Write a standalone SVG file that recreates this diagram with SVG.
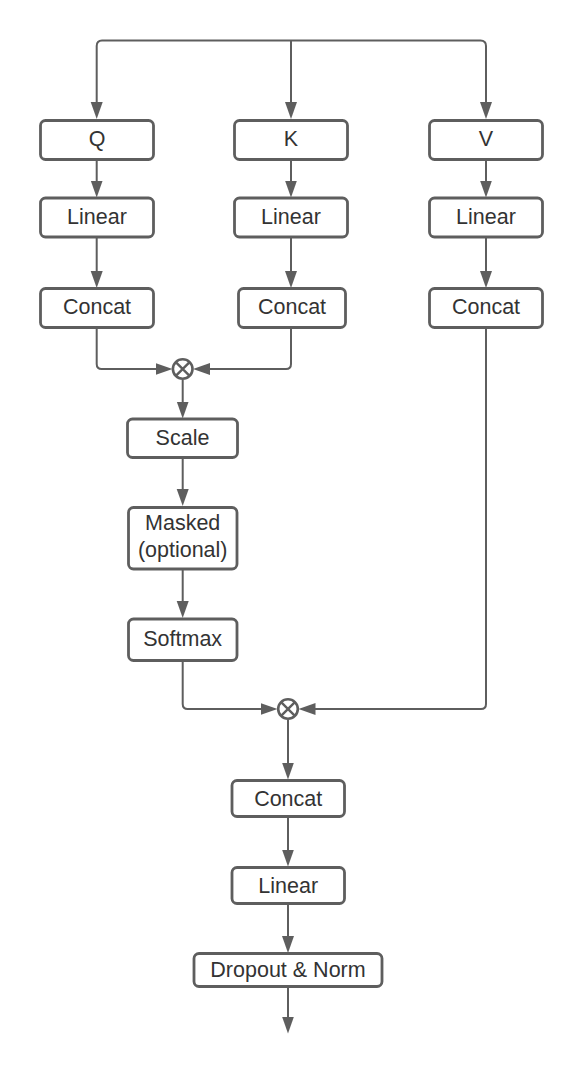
<svg xmlns="http://www.w3.org/2000/svg" width="584" height="1071" viewBox="0 0 584 1071">
<defs>
<style>
.box{fill:#ffffff;stroke:#5e5e5e;stroke-width:2.8}
.lbl{font-family:"Liberation Sans",Arial,sans-serif;font-size:21.5px;fill:#333333;text-anchor:middle}
.ln{fill:none;stroke:#5e5e5e;stroke-width:2;marker-end:url(#arr)}
.op{fill:#ffffff;stroke:#5e5e5e;stroke-width:2.6}
.x{stroke:#5e5e5e;stroke-width:2.4}
</style>
<marker id="arr" markerUnits="userSpaceOnUse" markerWidth="18" markerHeight="14" viewBox="0 0 18 14" refX="8" refY="7" orient="auto">
<path d="M0,1 L17,7 L0,13 z" fill="#5e5e5e"/>
</marker>
</defs>
<rect width="584" height="1071" fill="#ffffff"/>
<g id="connectors">
<path class="ln" d="M291,40.5 H102 Q96.7,40.5 96.7,46 V110"/>
<path class="ln" d="M291,40.5 H480.5 Q486,40.5 486,46 V110"/>
<path class="ln" d="M291,40.5 V110"/>
<path class="ln" d="M96.7,160 V188.5"/>
<path class="ln" d="M291,160 V188.5"/>
<path class="ln" d="M486,160 V188.5"/>
<path class="ln" d="M96.7,238 V279"/>
<path class="ln" d="M291,238 V279"/>
<path class="ln" d="M486,238 V279"/>
<path class="ln" d="M96.7,328 V364 Q96.7,369 101.7,369 H163.5"/>
<path class="ln" d="M291,328 V364 Q291,369 286,369 H202"/>
<path class="ln" d="M182.7,380 V409.5"/>
<path class="ln" d="M182.7,458 V497"/>
<path class="ln" d="M182.7,570 V609"/>
<path class="ln" d="M182.7,662 V704 Q182.7,709 187.7,709 H268.5"/>
<path class="ln" d="M486,328 V704 Q486,709 481,709 H307.5"/>
<path class="ln" d="M288,720 V770.5"/>
<path class="ln" d="M288,818 V857.5"/>
<path class="ln" d="M288,905 V944"/>
<path class="ln" d="M288,988 V1024.5"/>
</g>
<g id="op1">
<circle class="op" cx="182.7" cy="369" r="9.8"/>
<path class="x" d="M175.8,362.1 L189.6,375.9 M189.6,362.1 L175.8,375.9"/>
</g>
<g id="op2">
<circle class="op" cx="288" cy="709" r="9.8"/>
<path class="x" d="M281.1,702.1 L294.9,715.9 M294.9,702.1 L281.1,715.9"/>
</g>
<g id="q"><rect class="box" x="40.5" y="120.5" width="113" height="39" rx="5"/><text class="lbl" x="97" y="146">Q</text></g>
<g id="k"><rect class="box" x="234.5" y="120.5" width="113" height="39" rx="5"/><text class="lbl" x="291" y="146">K</text></g>
<g id="v"><rect class="box" x="429.5" y="120.5" width="113" height="39" rx="5"/><text class="lbl" x="486" y="146">V</text></g>
<g id="linear-q"><rect class="box" x="40.5" y="198" width="113" height="39" rx="5"/><text class="lbl" x="97" y="223.5">Linear</text></g>
<g id="linear-k"><rect class="box" x="234.5" y="198" width="113" height="39" rx="5"/><text class="lbl" x="291" y="223.5">Linear</text></g>
<g id="linear-v"><rect class="box" x="429.5" y="198" width="113" height="39" rx="5"/><text class="lbl" x="486" y="223.5">Linear</text></g>
<g id="concat-q"><rect class="box" x="40.5" y="288.5" width="113" height="39" rx="5"/><text class="lbl" x="97" y="314">Concat</text></g>
<g id="concat-k"><rect class="box" x="238.5" y="288.5" width="107" height="39" rx="5"/><text class="lbl" x="292" y="314">Concat</text></g>
<g id="concat-v"><rect class="box" x="429.5" y="288.5" width="113" height="39" rx="5"/><text class="lbl" x="486" y="314">Concat</text></g>
<g id="scale"><rect class="box" x="127.5" y="419" width="110" height="38.5" rx="5"/><text class="lbl" x="182.5" y="444.5">Scale</text></g>
<g id="masked"><rect class="box" x="128.5" y="507.5" width="108.5" height="61.5" rx="5"/><text class="lbl" x="182.7" y="530">Masked</text><text class="lbl" x="182.7" y="556.5">(optional)</text></g>
<g id="softmax"><rect class="box" x="128.5" y="619" width="108.5" height="41.5" rx="5"/><text class="lbl" x="182.7" y="646">Softmax</text></g>
<g id="concat-out"><rect class="box" x="232" y="780.5" width="112.5" height="36" rx="5"/><text class="lbl" x="288.2" y="805.5">Concat</text></g>
<g id="linear-out"><rect class="box" x="232" y="867.5" width="112.5" height="36" rx="5"/><text class="lbl" x="288.2" y="892.5">Linear</text></g>
<g id="dropout"><rect class="box" x="194" y="953.5" width="188" height="33" rx="5"/><text class="lbl" x="288" y="977">Dropout &amp; Norm</text></g>
</svg>
